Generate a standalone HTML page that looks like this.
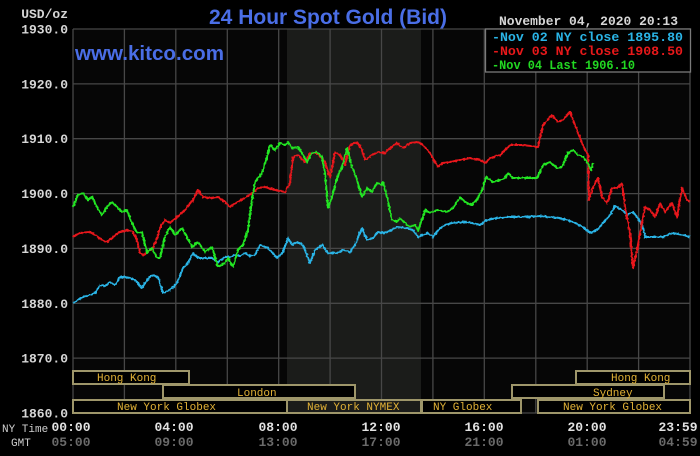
<!DOCTYPE html>
<html><head><meta charset="utf-8"><style>
html,body{margin:0;padding:0;background:#000;width:700px;height:456px;overflow:hidden}
svg{display:block}
.mono{font-family:"Liberation Mono",monospace}
.sans{font-family:"Liberation Sans",sans-serif}
</style></head><body>
<svg width="700" height="456" viewBox="0 0 700 456" xmlns="http://www.w3.org/2000/svg">
<defs>
<filter id="jit" x="-5%" y="-5%" width="110%" height="110%">
<feTurbulence type="fractalNoise" baseFrequency="0.45" numOctaves="1" seed="3" result="n"/>
<feDisplacementMap in="SourceGraphic" in2="n" scale="3" xChannelSelector="R" yChannelSelector="G"/>
</filter>
</defs>
<rect x="0" y="0" width="700" height="456" fill="#000"/>
<rect x="73" y="29" width="617" height="384" fill="#060606"/>
<rect x="287" y="29" width="134" height="384" fill="#1b1c1a"/>
<g stroke="#474747" stroke-width="1.3" fill="none">
<line x1="73" y1="29" x2="690" y2="29"/>
<line x1="73" y1="83.9" x2="690" y2="83.9"/>
<line x1="73" y1="138.7" x2="690" y2="138.7"/>
<line x1="73" y1="193.6" x2="690" y2="193.6"/>
<line x1="73" y1="248.4" x2="690" y2="248.4"/>
<line x1="73" y1="303.3" x2="690" y2="303.3"/>
<line x1="73" y1="358.1" x2="690" y2="358.1"/>
<line x1="73" y1="413" x2="690" y2="413"/>
<line x1="73" y1="29" x2="73" y2="413"/>
<line x1="124.4" y1="29" x2="124.4" y2="413"/>
<line x1="175.8" y1="29" x2="175.8" y2="413"/>
<line x1="227.3" y1="29" x2="227.3" y2="413"/>
<line x1="278.7" y1="29" x2="278.7" y2="413"/>
<line x1="330.1" y1="29" x2="330.1" y2="413"/>
<line x1="381.5" y1="29" x2="381.5" y2="413"/>
<line x1="432.9" y1="29" x2="432.9" y2="413"/>
<line x1="484.3" y1="29" x2="484.3" y2="413"/>
<line x1="535.8" y1="29" x2="535.8" y2="413"/>
<line x1="587.2" y1="29" x2="587.2" y2="413"/>
<line x1="638.6" y1="29" x2="638.6" y2="413"/>
<line x1="690" y1="29" x2="690" y2="413"/>
</g>
<g stroke="#9e966a" stroke-width="2">
<rect x="73" y="371" width="116" height="13" fill="#000"/>
<rect x="163" y="385" width="192" height="13" fill="#000"/>
<rect x="73" y="400" width="214" height="13" fill="#000"/>
<rect x="287" y="400" width="134" height="13" fill="#1b1c1a"/>
<rect x="422" y="400" width="99" height="13" fill="#000"/>
<rect x="576" y="371" width="114" height="13" fill="#000"/>
<rect x="512" y="385" width="152" height="13" fill="#000"/>
<rect x="538" y="400" width="152" height="13" fill="#000"/>
</g>
<g class="mono" font-size="11" fill="#e2b236">
<text x="97" y="381">Hong Kong</text>
<text x="237" y="396">London</text>
<text x="117" y="410">New York Globex</text>
<text x="307" y="410">New York NYMEX</text>
<text x="433" y="410">NY Globex</text>
<text x="611" y="381">Hong Kong</text>
<text x="593" y="396">Sydney</text>
<text x="563" y="410">New York Globex</text>
</g>
<g fill="none" stroke-width="2" stroke-linejoin="round" filter="url(#jit)">
<polyline stroke="#2ab4e6" points="73,303 78,300 83,297 90,295 95,293 100,285 105,286 110,282 115,285 120,277 125,277 130,278 135,280 142,288 147,280 152,275 158,277 163,293 170,290 177,283 183,268 188,263 193,253 198,258 205,258 212,258 218,262 225,257 230,257 235,255 240,256 245,253 250,256 255,255 260,245 268,248 277,258 283,252 288,238 292,245 297,242 303,245 310,263 315,250 322,245 328,253 337,253 343,250 350,252 355,245 362,228 367,240 373,238 378,232 385,233 387,232 397,227 405,228 413,230 418,237 423,235 428,233 433,237 438,230 445,225 452,223 463,222 472,223 480,225 487,220 497,218 507,217 512,217 523,217 540,216 550,217 560,218 573,222 583,227 590,233 597,230 603,223 610,215 615,206 622,210 627,215 633,212 638,218 643,227 645,237 653,237 663,237 673,233 683,235 690,237"/>
<polyline stroke="#e8181a" points="73,237 80,233 90,232 95,235 102,240 107,242 113,237 120,232 128,230 133,232 137,240 140,253 143,255 148,252 153,248 157,238 160,228 165,220 170,223 177,217 185,210 193,200 198,190 203,197 210,198 218,197 225,202 230,207 237,202 245,198 252,193 258,188 265,187 275,190 285,192 290,183 293,157 298,155 305,162 310,153 317,153 325,162 330,178 335,152 340,155 345,165 350,145 357,142 362,150 365,160 372,155 378,152 385,153 390,148 397,143 403,148 410,143 418,142 423,145 430,153 435,162 438,167 443,163 450,162 460,160 470,158 480,160 485,163 490,158 500,155 510,145 523,145 538,147 543,125 552,115 558,122 563,120 570,112 575,125 580,138 585,150 588,155 589,200 593,187 598,178 602,197 607,203 612,188 617,188 622,183 625,207 630,233 633,268 637,250 642,223 645,207 650,210 655,217 660,203 665,212 672,203 677,217 682,188 687,200 690,202"/>
<polyline stroke="#22e622" points="73,207 78,195 83,193 88,200 92,197 97,207 102,215 107,207 112,202 117,207 122,212 127,210 132,223 137,233 142,232 147,253 152,248 157,258 160,258 165,237 170,227 175,235 182,228 187,237 192,247 198,242 205,252 212,247 218,267 225,263 228,258 233,267 238,250 243,245 248,230 252,200 255,182 262,173 267,157 270,145 275,150 280,143 285,145 288,142 292,148 298,147 303,155 307,162 312,153 317,152 322,157 325,173 328,208 332,197 337,178 342,167 347,148 352,167 357,180 362,197 367,188 372,192 377,183 382,185 383,182 387,197 392,220 397,222 400,218 405,223 410,227 415,225 418,230 422,220 425,210 430,213 437,210 447,212 453,208 460,197 465,202 472,205 478,198 482,190 486,177 493,182 500,180 505,178 508,173 513,178 523,178 537,178 543,165 550,162 557,168 562,167 568,153 573,150 578,155 583,157 588,163 591,170 593,163"/>
</g>
<rect x="485.5" y="29" width="205" height="43" fill="#000" stroke="#7a7a7a" stroke-width="1.3"/>
<g class="mono" font-size="13" font-weight="bold">
<text x="492" y="41" fill="#2ab4e6" textLength="191" lengthAdjust="spacingAndGlyphs">-Nov 02 NY close 1895.80</text>
<text x="492" y="55" fill="#e8181a" textLength="191" lengthAdjust="spacingAndGlyphs">-Nov 03 NY close 1908.50</text>
<text x="492" y="69" fill="#22d822" textLength="143" lengthAdjust="spacingAndGlyphs">-Nov 04 Last 1906.10</text>
<text x="499" y="25" fill="#d6d6d6" textLength="179" lengthAdjust="spacingAndGlyphs">November 04, 2020 20:13</text>
</g>
<text class="sans" x="209" y="24" font-size="21" font-weight="bold" fill="#4a6ee6" textLength="238" lengthAdjust="spacingAndGlyphs">24 Hour Spot Gold (Bid)</text>
<text class="sans" x="75" y="60" font-size="20" font-weight="bold" fill="#4a6ee6" textLength="149" lengthAdjust="spacingAndGlyphs">www.kitco.com</text>
<g class="mono" font-size="13" font-weight="bold" fill="#d6d6d6" text-anchor="end">
<text x="68" y="18">USD/oz</text>
<text x="68" y="33.5">1930.0</text>
<text x="68" y="88.4">1920.0</text>
<text x="68" y="143.2">1910.0</text>
<text x="68" y="198.1">1900.0</text>
<text x="68" y="252.9">1890.0</text>
<text x="68" y="307.8">1880.0</text>
<text x="68" y="362.6">1870.0</text>
<text x="68" y="417.5">1860.0</text>
</g>
<g class="mono" font-size="11" fill="#cfcfcf">
<text x="2" y="432">NY Time</text>
<text x="11" y="446">GMT</text>
</g>
<g class="mono" font-size="13" font-weight="bold" fill="#e2e2e2" text-anchor="middle">
<text x="71" y="431">00:00</text>
<text x="174" y="431">04:00</text>
<text x="278" y="431">08:00</text>
<text x="381" y="431">12:00</text>
<text x="484" y="431">16:00</text>
<text x="587" y="431">20:00</text>
<text x="678" y="431">23:59</text>
</g>
<g class="mono" font-size="13" font-weight="bold" fill="#6a6a6a" text-anchor="middle">
<text x="71" y="446">05:00</text>
<text x="174" y="446">09:00</text>
<text x="278" y="446">13:00</text>
<text x="381" y="446">17:00</text>
<text x="484" y="446">21:00</text>
<text x="587" y="446">01:00</text>
<text x="678" y="446">04:59</text>
</g>
</svg>
</body></html>
